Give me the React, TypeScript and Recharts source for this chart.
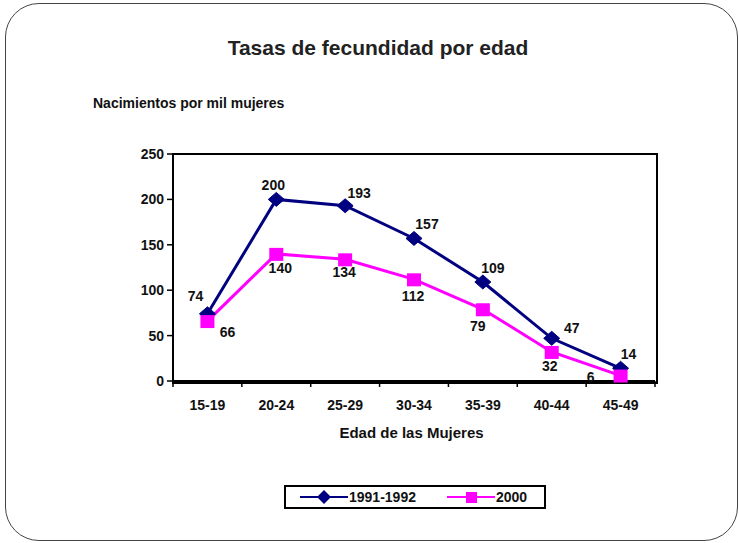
import React from "react";
import { ComposedChart, Line, XAxis, YAxis, LabelList } from "recharts";

const categories = ["15-19", "20-24", "25-29", "30-34", "35-39", "40-44", "45-49"];
const serie1991 = [74, 200, 193, 157, 109, 47, 14];
const serie2000 = [66, 140, 134, 112, 79, 32, 6];
const yTicks = [0, 50, 100, 150, 200, 250];

const data = categories.map((edad, i) => ({
  edad,
  a: serie1991[i],
  b: serie2000[i],
}));

const FONT = "Arial, 'Liberation Sans', sans-serif";
const NAVY = "#000080";
const MAGENTA = "#FF00FF";

const WIDTH = 739;
const HEIGHT = 543;
const MARGIN = { top: 154, right: 84, bottom: 132, left: 113 };
const Y_AXIS_W = 60;
const X_AXIS_H = 30;
const PLOT_X = MARGIN.left + Y_AXIS_W;
const PLOT_W = WIDTH - PLOT_X - MARGIN.right;
const PLOT_H = HEIGHT - MARGIN.top - MARGIN.bottom - X_AXIS_H;
const BAND = PLOT_W / categories.length;

// label placement (dx, dy from the marker), one per point
const offsets1991 = [[-12, -18], [-3, -14], [14, -13], [13, -14], [10, -14], [20, -10], [8, -14]];
const offsets2000 = [[20, 11], [4, 14], [-1, 13], [-1, 17], [-5, 17], [-2, 14], [-30, 1]];

const Diamond = (props: any) => {
  const { cx, cy } = props;
  if (cx == null || cy == null) return null;
  return (
    <path
      d={`M${cx},${cy - 7} L${cx + 8},${cy} L${cx},${cy + 7} L${cx - 8},${cy} Z`}
      fill={NAVY}
      stroke={NAVY}
    />
  );
};

const Square = (props: any) => {
  const { cx, cy } = props;
  if (cx == null || cy == null) return null;
  return <rect x={cx - 7} y={cy - 6} width={14} height={13} fill={MAGENTA} />;
};

const makeLabel = (offsets: number[][]) => (props: any) => {
  const { x, y, value, index } = props;
  const [dx, dy] = offsets[index] ?? [0, -12];
  return (
    <text
      x={x + dx}
      y={y + dy}
      textAnchor="middle"
      dominantBaseline="central"
      fontFamily={FONT}
      fontWeight="bold"
      fontSize={14}
      fill="#111"
    >
      {value}
    </text>
  );
};

const XTick = (props: any) => {
  const { x, y, payload, index } = props;
  const axisY = y - 8;
  return (
    <g>
      <line x1={x - BAND / 2} x2={x - BAND / 2} y1={axisY} y2={axisY + 6} stroke="#000" strokeWidth={1.5} />
      {index === categories.length - 1 && (
        <line x1={x + BAND / 2} x2={x + BAND / 2} y1={axisY} y2={axisY + 6} stroke="#000" strokeWidth={1.5} />
      )}
      <text x={x} y={axisY + 29} textAnchor="middle" fontFamily={FONT} fontWeight="bold" fontSize={14} fill="#111">
        {payload.value}
      </text>
    </g>
  );
};

const LegendItem = ({ color, label, marker }: { color: string; label: string; marker: "diamond" | "square" }) => (
  <div style={{ display: "flex", alignItems: "center", whiteSpace: "nowrap" }}>
    <svg width={48} height={16} style={{ display: "block" }}>
      <line x1={0} x2={48} y1={8} y2={8} stroke={color} strokeWidth={2} />
      {marker === "diamond" ? (
        <path d="M24,1 L31,8 L24,15 L17,8 Z" fill={color} />
      ) : (
        <rect x={19} y={3} width={11} height={11} fill={color} />
      )}
    </svg>
    <span style={{ fontFamily: FONT, fontWeight: "bold", fontSize: 14, color: "#111", lineHeight: 1, marginLeft: 1 }}>
      {label}
    </span>
  </div>
);

export default function App() {
  return (
    <div style={{ position: "absolute", left: 0, top: 0, width: WIDTH, height: HEIGHT, background: "#fff" }}>
      <div
        style={{
          position: "absolute",
          left: 5,
          top: 3,
          width: 731,
          height: 536,
          border: "1.5px solid #444",
          borderRadius: 34,
        }}
      />
      <div
        style={{
          position: "absolute",
          left: 0,
          width: 756,
          top: 37,
          textAlign: "center",
          fontFamily: FONT,
          fontWeight: "bold",
          fontSize: 21,
          lineHeight: 1,
          color: "#222",
        }}
      >
        Tasas de fecundidad por edad
      </div>
      <div
        style={{
          position: "absolute",
          left: 93,
          top: 96,
          fontFamily: FONT,
          fontWeight: "bold",
          fontSize: 14,
          lineHeight: 1,
          color: "#111",
        }}
      >
        Nacimientos por mil mujeres
      </div>
      {/* plot frame */}
      <div
        style={{
          position: "absolute",
          left: PLOT_X - 1,
          top: MARGIN.top - 1,
          width: PLOT_W,
          height: PLOT_H,
          border: "2px solid #000",
          boxSizing: "content-box",
        }}
      />
      <div style={{ position: "absolute", left: 0, top: 0 }}>
        <ComposedChart width={WIDTH} height={HEIGHT} data={data} margin={MARGIN}>
          <XAxis
            dataKey="edad"
            tickLine={false}
            tick={<XTick />}
            axisLine={{ stroke: "#000", strokeWidth: 2 }}
            height={X_AXIS_H}
            interval={0}
            padding={{ left: BAND / 2, right: BAND / 2 }}
          />
          <YAxis
            domain={[0, 250]}
            ticks={yTicks}
            width={Y_AXIS_W}
            tickSize={6}
            tickMargin={3}
            interval={0}
            axisLine={{ stroke: "#000", strokeWidth: 2 }}
            tickLine={{ stroke: "#000", strokeWidth: 1.5 }}
            tick={{ fontFamily: FONT, fontWeight: "bold", fontSize: 14, fill: "#111" }}
          />
          <Line
            dataKey="a"
            name="1991-1992"
            stroke={NAVY}
            strokeWidth={3}
            dot={<Diamond />}
            activeDot={false}
            isAnimationActive={false}
          >
            <LabelList dataKey="a" content={makeLabel(offsets1991)} />
          </Line>
          <Line
            dataKey="b"
            name="2000"
            stroke={MAGENTA}
            strokeWidth={3}
            dot={<Square />}
            activeDot={false}
            isAnimationActive={false}
          >
            <LabelList dataKey="b" content={makeLabel(offsets2000)} />
          </Line>
        </ComposedChart>
      </div>
      <div
        style={{
          position: "absolute",
          left: 0,
          width: 823,
          top: 425,
          textAlign: "center",
          fontFamily: FONT,
          fontWeight: "bold",
          fontSize: 15,
          lineHeight: 1,
          color: "#111",
          pointerEvents: "none",
        }}
      >
        Edad de las Mujeres
      </div>
      <div
        style={{
          position: "absolute",
          left: 284,
          top: 485,
          width: 262,
          height: 24,
          border: "2px solid #000",
          display: "flex",
          alignItems: "center",
          boxSizing: "border-box",
          paddingLeft: 14,
          gap: 31,
        }}
      >
        <LegendItem color={NAVY} label="1991-1992" marker="diamond" />
        <LegendItem color={MAGENTA} label="2000" marker="square" />
      </div>
    </div>
  );
}
